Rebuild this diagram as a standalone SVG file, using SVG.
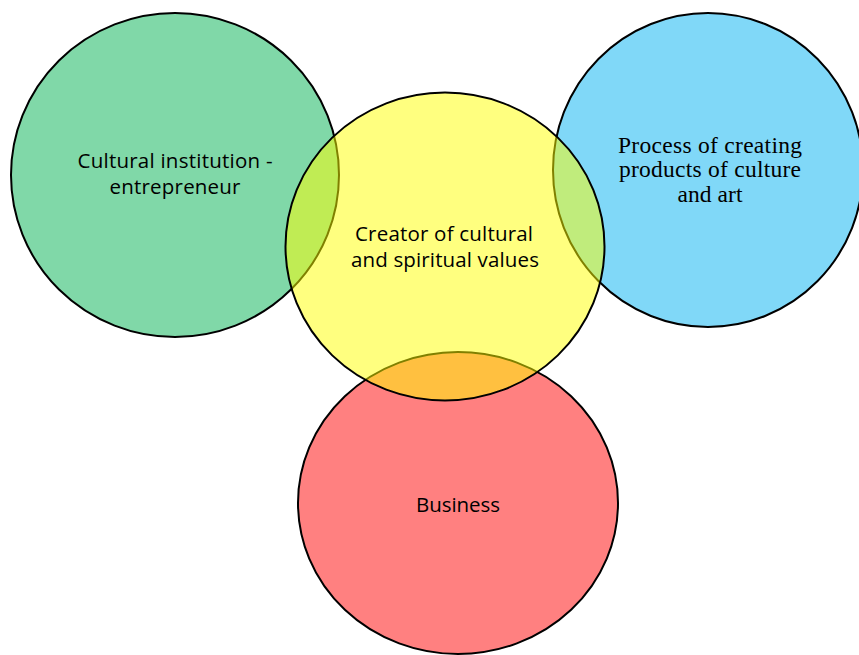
<svg xmlns="http://www.w3.org/2000/svg" width="859" height="655" viewBox="0 0 859 655">
  <style>
    .ring { stroke: #000000; stroke-width: 2; }
    .sans { font-family: "Open Sans", "Noto Sans", "Liberation Sans", sans-serif; font-size: 20.5px; fill: #000000; text-anchor: middle; }
    .serif { font-family: "Liberation Serif", "Times New Roman", serif; font-size: 23.5px; fill: #000000; text-anchor: middle; }
  </style>
  <rect width="859" height="655" fill="#ffffff"/>

  <!-- outer circles -->
  <g id="cultural-institution">
    <ellipse class="ring" cx="175" cy="175" rx="164" ry="162" fill="#80d8a8"/>
    <text class="sans" x="175" y="168" textLength="195">Cultural institution -</text>
    <text class="sans" x="175" y="194" textLength="131">entrepreneur</text>
  </g>

  <g id="creative-process">
    <ellipse class="ring" cx="708" cy="170" rx="155" ry="157" fill="#80d8f8"/>
    <text class="serif" x="710" y="153" textLength="184">Process of creating</text>
    <text class="serif" x="710" y="177" textLength="182">products of culture</text>
    <text class="serif" x="710" y="202" textLength="65">and art</text>
  </g>

  <g id="business">
    <ellipse class="ring" cx="458" cy="503" rx="160" ry="151" fill="#ff8080"/>
    <text class="sans" x="458" y="512" textLength="84">Business</text>
  </g>

  <!-- central translucent circle laid over the others -->
  <g id="creator">
    <ellipse class="ring" cx="445" cy="246.5" rx="159.5" ry="154" fill="#ffff00" fill-opacity="0.5"/>
    <text class="sans" x="444" y="241" textLength="178">Creator of cultural</text>
    <text class="sans" x="445" y="267" textLength="188">and spiritual values</text>
  </g>

  <g id="connectors"/>
</svg>
